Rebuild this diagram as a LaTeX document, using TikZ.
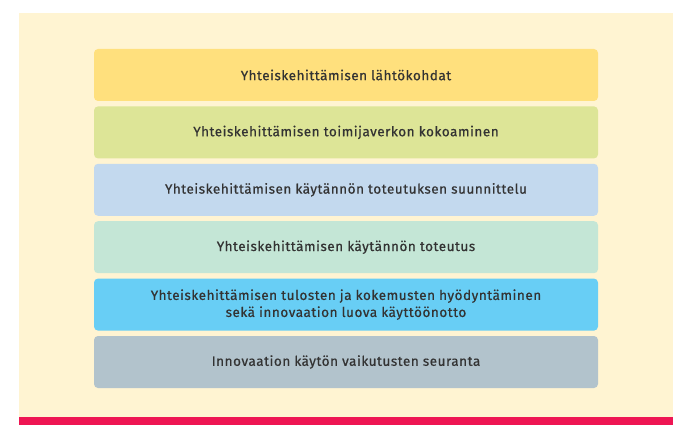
\documentclass[tikz,border=0pt]{standalone}
\usepackage{fontspec}
\newfontfamily\stagefont{Fira Sans}[LetterSpace=4, UprightFeatures={FakeBold=0.7}]
\usepackage{xcolor}
\usetikzlibrary{positioning}

\definecolor{bgcream}{HTML}{FFF4D2}
\definecolor{barred}{HTML}{EE1553}
\definecolor{txtgray}{HTML}{333333}
\definecolor{cyellow}{HTML}{FFE07D}
\definecolor{cgreen}{HTML}{DDE597}
\definecolor{cblue}{HTML}{C3D9EE}
\definecolor{cmint}{HTML}{C4E6D6}
\definecolor{ccyan}{HTML}{68CEF5}
\definecolor{cgray}{HTML}{B2C3CC}

\begin{document}
\begin{tikzpicture}[
        x=1pt, y=-1pt,
        node distance=5pt,
        every node/.style={font=\stagefont\fontsize{13.5}{17}\selectfont, text=txtgray},
        stage/.style={rectangle, rounded corners=4pt, minimum height=52pt, minimum width=504pt, align=center, inner sep=0pt}
    ]

    \useasboundingbox (0,0) rectangle (690,435);
    \fill[bgcream] (19,13) rectangle (673,417);
    \fill[barred] (19,417) rectangle (673,425);

    \node[stage, fill=cyellow] (start) at (346,75) {Yhteiskehittämisen lähtökohdat};
    \node[stage, fill=cgreen, below=of start] (network) {Yhteiskehittämisen toimijaverkon kokoaminen};
    \node[stage, fill=cblue, below=of network] (planning) {Yhteiskehittämisen käytännön toteutuksen suunnittelu};
    \node[stage, fill=cmint, below=of planning] (practice) {Yhteiskehittämisen käytännön toteutus};
    \node[stage, fill=ccyan, below=of practice] (results) {Yhteiskehittämisen tulosten ja kokemusten hyödyntäminen\\sekä innovaation luova käyttöönotto};
    \node[stage, fill=cgray, below=of results] (followup) {Innovaation käytön vaikutusten seuranta};

\end{tikzpicture}
\end{document}
